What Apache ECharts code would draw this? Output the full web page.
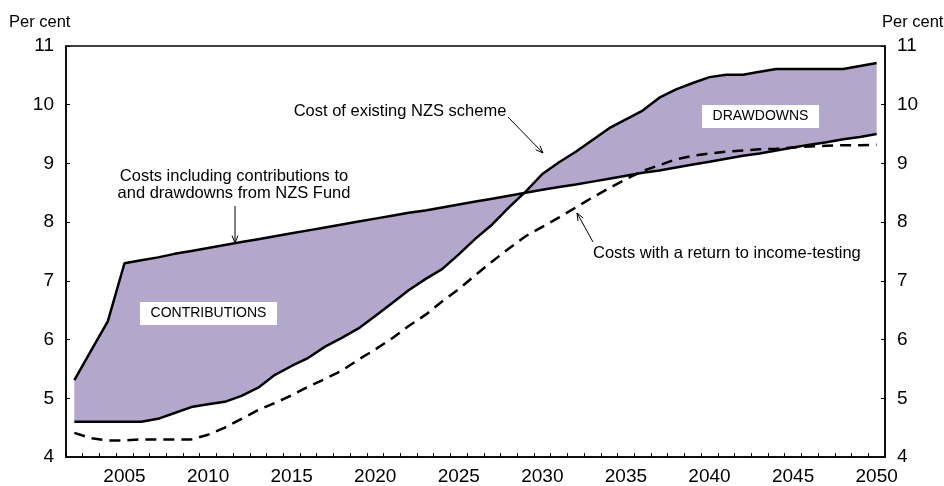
<!DOCTYPE html>
<html>
<head>
<meta charset="utf-8">
<script src="https://cdn.jsdelivr.net/npm/echarts@6/dist/echarts.min.js"></script>
<style>html,body{margin:0;padding:0;background:#fff}#c{width:944px;height:486px}</style>
</head>
<body>
<div id="c"></div>
<script>
var years = [];
for (var y = 2002; y <= 2050; y++) years.push(String(y));

// Costs including contributions to and drawdowns from NZS Fund
var withFund = [5.31, 5.81, 6.31, 7.30, 7.35, 7.40, 7.46, 7.51, 7.56, 7.61,
  7.66, 7.71, 7.76, 7.81, 7.86, 7.91, 7.96, 8.01, 8.06, 8.11,
  8.16, 8.20, 8.25, 8.30, 8.35, 8.40, 8.45, 8.50, 8.55, 8.60,
  8.64, 8.69, 8.74, 8.79, 8.84, 8.88, 8.93, 8.98, 9.03, 9.08,
  9.13, 9.17, 9.22, 9.27, 9.32, 9.36, 9.41, 9.45, 9.50];

// Cost of existing NZS scheme
var existing = [4.60, 4.60, 4.60, 4.60, 4.60, 4.65, 4.75, 4.85, 4.90, 4.94,
  5.04, 5.18, 5.40, 5.55, 5.69, 5.88, 6.03, 6.19, 6.40, 6.62,
  6.84, 7.03, 7.20, 7.45, 7.72, 7.96, 8.25, 8.52, 8.82, 9.02,
  9.20, 9.40, 9.60, 9.75, 9.90, 10.12, 10.26, 10.37, 10.47, 10.51,
  10.51, 10.56, 10.61, 10.61, 10.61, 10.61, 10.61, 10.66, 10.71];

// Costs with a return to income-testing
var incomeTest = [4.41, 4.32, 4.28, 4.28, 4.30, 4.30, 4.30, 4.30, 4.38, 4.50,
  4.65, 4.80, 4.92, 5.05, 5.20, 5.33, 5.47, 5.66, 5.83, 6.02,
  6.23, 6.42, 6.65, 6.86, 7.10, 7.33, 7.55, 7.76, 7.92, 8.08,
  8.25, 8.42, 8.58, 8.73, 8.87, 8.97, 9.07, 9.13, 9.17, 9.20,
  9.22, 9.24, 9.25, 9.27, 9.29, 9.30, 9.31, 9.31, 9.32];

var yTicks = [4, 5, 6, 7, 8, 9, 10, 11];

var FONT = '"Liberation Sans", Arial, Helvetica, sans-serif';
var chart = echarts.init(document.getElementById('c'), null, {renderer: 'canvas'});

function arrow(x1, y1, x2, y2) {
  var ang = Math.atan2(y2 - y1, x2 - x1);
  var L = 8, a = 0.38;
  var p1 = [x2 - L * Math.cos(ang - a), y2 - L * Math.sin(ang - a)];
  var p2 = [x2 - L * Math.cos(ang + a), y2 - L * Math.sin(ang + a)];
  return [
    {type: 'line', shape: {x1: x1, y1: y1, x2: x2, y2: y2}, style: {stroke: '#000', lineWidth: 1}, z: 20},
    {type: 'polyline', shape: {points: [p1, [x2, y2], p2]}, style: {stroke: '#000', lineWidth: 1, fill: null}, z: 20}
  ];
}

function txt(x, y, s, align, size) {
  return {type: 'text', x: x, y: y, z: 20,
    style: {text: s, fill: '#000', font: (size || 16.5) + 'px ' + FONT, align: align || 'center', verticalAlign: 'middle'}};
}

var graphics = [
  txt(9, 22, 'Per cent', 'left'),
  txt(882, 22, 'Per cent', 'left'),
  txt(234, 176, 'Costs including contributions to'),
  txt(234, 193, 'and drawdowns from NZS Fund'),
  txt(400, 111, 'Cost of existing NZS scheme'),
  txt(593, 253, 'Costs with a return to income-testing', 'left'),
  {type: 'rect', shape: {x: 140, y: 302, width: 137, height: 23}, style: {fill: '#fff'}, z: 19},
  txt(208.5, 313.5, 'CONTRIBUTIONS', 'center', 14),
  {type: 'rect', shape: {x: 702, y: 105, width: 117, height: 23}, style: {fill: '#fff'}, z: 19},
  txt(760.5, 116.5, 'DRAWDOWNS', 'center', 14)
].concat(arrow(235, 206, 235, 243))
 .concat(arrow(508, 117, 543, 153))
 .concat(arrow(593, 242, 577, 213));

var yAxisBase = {
  type: 'value', min: 4, max: 11, interval: 1,
  axisLine: {show: true, lineStyle: {color: '#000', width: 1.5}},
  axisTick: {show: true, inside: true, length: 4, lineStyle: {color: '#000', width: 1}},
  splitLine: {show: false},
  axisLabel: {color: '#000', fontSize: 19, fontFamily: FONT, margin: 12}
};

chart.setOption({
  animation: false,
  backgroundColor: '#fff',
  grid: {left: 66, right: 59, top: 46, bottom: 24, show: true, borderColor: '#000', borderWidth: 1.5, containLabel: false},
  xAxis: {
    type: 'category', data: years, boundaryGap: true,
    axisLine: {show: true, lineStyle: {color: '#000', width: 1.5}},
    axisTick: {show: true, inside: true, length: 4, interval: 0, lineStyle: {color: '#000', width: 1}},
    axisLabel: {color: '#000', fontSize: 19, fontFamily: FONT, margin: 10,
      interval: function (i, v) { return Number(v) % 5 === 0; }},
    splitLine: {show: false}
  },
  yAxis: [
    Object.assign({}, yAxisBase, {position: 'left'}),
    Object.assign({}, yAxisBase, {position: 'right'})
  ],
  series: [
    {
      type: 'custom', silent: true, z: 1,
      data: [[0, 4]],
      renderItem: function (params, api) {
        var pts = [], i;
        for (i = 0; i < years.length; i++) pts.push(api.coord([i, withFund[i]]));
        for (i = years.length - 1; i >= 0; i--) pts.push(api.coord([i, existing[i]]));
        return {type: 'polygon', shape: {points: pts}, style: {fill: '#b3a7cc', stroke: null}};
      }
    },
    {type: 'line', data: withFund, symbol: 'none', z: 5, lineStyle: {color: '#000', width: 2.5}},
    {type: 'line', data: existing, symbol: 'none', z: 5, lineStyle: {color: '#000', width: 2.5}},
    {type: 'line', data: incomeTest, symbol: 'none', z: 5, lineStyle: {color: '#000', width: 2.5, type: [11, 7]}}
  ],
  graphic: graphics
});
</script>
</body>
</html>
